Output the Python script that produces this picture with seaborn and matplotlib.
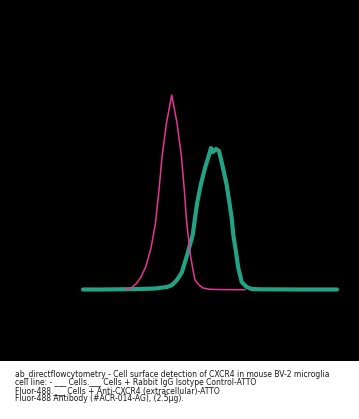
import matplotlib
matplotlib.use("Agg")
import matplotlib.pyplot as plt
import seaborn as sns
import pandas as pd

# Flow cytometry histograms (channel vs. count)
isotype_channel = [43, 48, 53, 58, 63, 68, 72.5, 76, 79, 83.5, 88.7, 94, 98.5, 101.3, 103.7, 107.7, 110, 112, 116, 120, 127, 140, 162]
isotype_count = [0.5, 2, 6, 13, 24, 42, 67, 100, 133, 167, 195, 167, 133, 100, 67, 33, 20, 10, 5, 2, 0.7, 0.4, 0.3]

cxcr4_channel = [0, 17, 37, 57, 72, 80, 84, 89, 94, 99, 102, 105, 109.7, 112, 114.3, 117.7, 122, 126, 128, 130, 133, 136, 140, 143.7, 146.3, 148.7, 150.3, 153, 155.3, 158.7, 163.7, 168.7, 177, 217, 254]
cxcr4_count = [0.5, 0.5, 0.7, 1, 1.5, 2.5, 3, 5, 10, 18, 28, 38, 55, 72, 88, 105, 122, 135, 142, 138, 141, 139, 122, 105, 88, 72, 55, 38, 22, 8, 3, 1, 0.7, 0.5, 0.5]

caption_lines = [
    "ab_directflowcytometry - Cell surface detection of CXCR4 in mouse BV-2 microglia",
    "cell line: - ___ Cells.___ Cells + Rabbit IgG Isotype Control-ATTO",
    "Fluor-488.___ Cells + Anti-CXCR4 (extracellular)-ATTO",
    "Fluor-488 Antibody (#ACR-014-AG), (2.5\u00b5g).",
]

iso_df = pd.DataFrame({"channel": isotype_channel, "count": isotype_count})
cx_df = pd.DataFrame({"channel": cxcr4_channel, "count": cxcr4_count})

sns.set_theme(style="white")
plt.rcParams["font.family"] = ["DejaVu Sans"]

W, H = 359, 419
fig = plt.figure(figsize=(W / 100, H / 100), dpi=100)
fig.patch.set_facecolor("white")
black_h = 361
ax = fig.add_axes([0, 1 - black_h / H, 1, black_h / H])
ax.set_facecolor("black")

sns.lineplot(data=cx_df, x="channel", y="count", ax=ax, color="#22a385",
             linewidth=3.0, sort=False, estimator=None)
sns.lineplot(data=iso_df, x="channel", y="count", ax=ax, color="#e63592",
             linewidth=1.1, sort=False, estimator=None)

ax.set_xlim(-83, 276)
ax.set_ylim(-71, 290)
ax.set_xticks([])
ax.set_yticks([])
ax.set_xlabel("")
ax.set_ylabel("")
for s in ax.spines.values():
    s.set_visible(False)

# caption
fs = 5.0
renderer = fig.canvas.get_renderer()
t = fig.text(0, 0, caption_lines[0], fontsize=fs)
w = t.get_window_extent(renderer).width
t.remove()
fs = fs * 318 / w

ys = [374.0, 382.5, 390.5, 398.5]
for line, yp in zip(caption_lines, ys):
    fig.text(15 / W, 1 - yp / H, line, fontsize=fs, color="#1a1a1a",
             ha="left", va="center")

fig.savefig("out.png", dpi=100, facecolor="white")
